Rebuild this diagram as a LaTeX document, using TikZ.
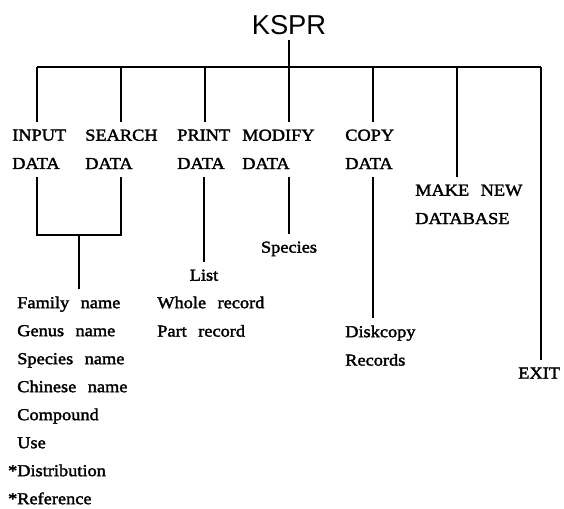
\documentclass[tikz,border=0pt]{standalone}
\usepackage{fontspec}
\setmainfont{Liberation Serif}[FakeStretch=1.1, WordSpace=2.5, FakeBold=2]
\newfontfamily\titlefont{Liberation Sans}
\usepackage{tikz}
\tikzstyle{menu} = [align=left, 
anchor=north west, 
inner xsep=0pt, 
inner ysep=5.5pt, 
font=\fontsize{12.5}{21.3}\selectfont]
\tikzstyle{sub} = [menu, anchor=north]
\tikzstyle{title} = [font=\titlefont\fontsize{20.5}{24}\selectfont, 
inner sep=3.5pt]
\tikzstyle{line} = [line width=0.9pt]

\begin{document}
\begin{tikzpicture}[x=0.75pt, y=-0.75pt]
\useasboundingbox (0,0) rectangle (564,508);

\node (kspr) [title] at (289,25) {KSPR};
\foreach \i in {1,...,7}
  \coordinate (bar\i) at ({37+84*(\i-1)},67);

\node (input) [menu] at (12,122) {INPUT\\DATA};
\node (search) [menu] at (85,122) {SEARCH\\DATA};
\node (print) [menu] at (177,122) {PRINT\\DATA};
\node (modify) [menu] at (242,122) {MODIFY\\DATA};
\node (copy) [menu] at (345,122) {COPY\\DATA};
\node (makenew) [menu] at (415,177) {MAKE NEW\\DATABASE};
\node (exit) [menu] at (518,360) {EXIT};

\coordinate (join) at (79,235);
\node (fields) [menu, font=\fontsize{12.5}{21}\selectfont] at (17,289) {Family name\\Genus name\\Species name\\Chinese name\\Compound\\Use\\\llap{*}Distribution\\\llap{*}Reference};
\node (list) [sub] at (204,262) {List};
\node (records) [menu] at (157,289) {Whole record\\Part record};
\node (species) [sub] at (289,234) {Species};
\node (disk) [menu] at (345,318) {Diskcopy\\Records};

\draw [line] (kspr.south) -- (bar4);
\draw [line] (bar1) -- (bar7);
\foreach \i/\n in {1/input,2/search,3/print,4/modify,5/copy,6/makenew,7/exit}
  \draw [line] (bar\i) -- (bar\i |- \n.north);
\draw [line] (bar1 |- input.south) |- (join) -| (bar2 |- search.south);
\draw [line] (join) -- (join |- fields.north);
\draw [line] (list.north |- print.south) -- (list.north);
\draw [line] (bar4 |- modify.south) -- (species.north);
\draw [line] (bar5 |- copy.south) -- (bar5 |- disk.north);

\end{tikzpicture}
\end{document}
